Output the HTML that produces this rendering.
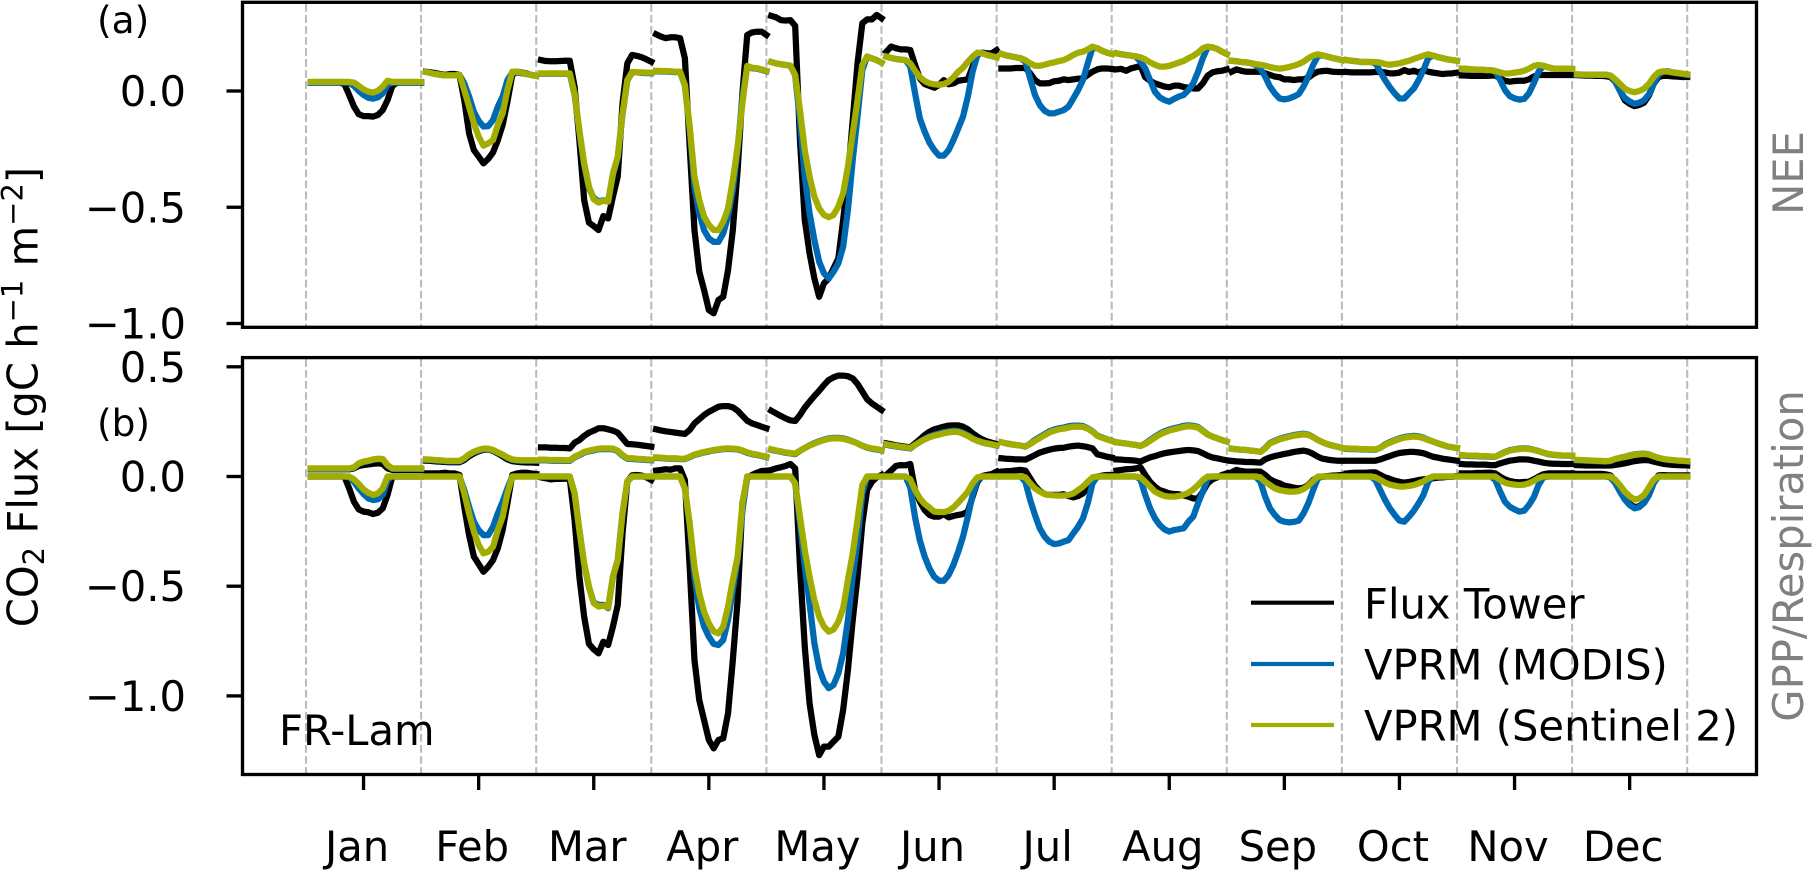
<!DOCTYPE html>
<html lang="en">
<head>
<meta charset="utf-8">
<title>FR-Lam CO2 flux</title>
<style>
html,body{margin:0;padding:0;background:#fff;}
svg{display:block;}
text{font-family:"DejaVu Sans","Liberation Sans",sans-serif;font-size:41.67px;fill:#000;}
</style>
</head>
<body>
<svg id="chart" width="1813" height="870" viewBox="0 0 1813 870" xmlns="http://www.w3.org/2000/svg">
  <rect x="0" y="0" width="1813" height="870" fill="#fff"/>
  <g id="grid"></g>
  <g id="marks"></g>
  <rect x="242.5" y="2.3" width="1514" height="325" fill="none" stroke="#000" stroke-width="3.33"/>
  <rect x="242.5" y="357.6" width="1514" height="416.9" fill="none" stroke="#000" stroke-width="3.33"/>
  <g id="axes"></g>
  <text x="97" y="33" style="font-size:37.5px">(a)</text>
  <text x="97" y="436" style="font-size:37.5px">(b)</text>
  <text transform="translate(37.5,397) rotate(-90)" text-anchor="middle">CO<tspan dy="6.5" style="font-size:29px">2</tspan><tspan dy="-6.5"> Flux [gC h</tspan><tspan dy="-15" style="font-size:29px">−1</tspan><tspan dy="15"> m</tspan><tspan dy="-15" style="font-size:29px">−2</tspan><tspan dy="15">]</tspan></text>
  <text transform="translate(1803,173) rotate(-90)" text-anchor="middle" style="fill:#808080">NEE</text>
  <text transform="translate(1803,556) rotate(-90)" text-anchor="middle" style="fill:#808080">GPP/Respiration</text>
  <text x="279" y="745">FR-Lam</text>
  <g>
    <line x1="1251" x2="1334" y1="602.7" y2="602.7" stroke="#000" stroke-width="4.17"/>
    <text x="1364" y="618.7">Flux Tower</text>
    <line x1="1251" x2="1334" y1="664" y2="664" stroke="#0069B4" stroke-width="4.17"/>
    <text x="1364" y="679.5">VPRM (MODIS)</text>
    <line x1="1251" x2="1334" y1="725" y2="725" stroke="#A3AD00" stroke-width="4.17"/>
    <text x="1364" y="740.5">VPRM (Sentinel 2)</text>
  </g>
</svg>
<script>
const months = ["Jan","Feb","Mar","Apr","May","Jun","Jul","Aug","Sep","Oct","Nov","Dec"];
const yTicksA = [0, -0.5, -1];
const yTickLabelsA = ["0.0","−0.5","−1.0"];
const yTicksB = [0.5, 0, -0.5, -1];
const yTickLabelsB = ["0.5","0.0","−0.5","−1.0"];

const neeTower = [
[.036,.036,.036,.036,.036,.036,.036,.03,-.017,-.067,-.1,-.108,-.108,-.11,-.103,-.082,-.039,.022,.036,.036,.036,.036,.036,.036],
[.083,.08,.077,.073,.069,.073,.073,.069,-.039,-.182,-.254,-.282,-.311,-.292,-.264,-.211,-.146,-.046,.069,.083,.08,.075,.069,.065],
[.133,.129,.128,.128,.129,.13,.13,.019,-.211,-.469,-.566,-.581,-.598,-.538,-.548,-.454,-.368,-.053,.119,.155,.151,.145,.136,.126],
[.244,.234,.227,.231,.231,.227,.141,-.239,-.598,-.777,-.856,-.942,-.956,-.899,-.885,-.77,-.598,-.34,-.01,.241,.252,.255,.255,.241],
[.323,.317,.305,.303,.305,.28,-.211,-.555,-.698,-.806,-.885,-.827,-.806,-.763,-.72,-.555,-.368,-.125,.119,.291,.308,.308,.327,.313],
[.169,.191,.184,.179,.179,.176,.112,.054,.03,.022,.014,.026,.047,.029,.033,.044,.047,.05,.105,.155,.165,.162,.162,.176],
[.097,.097,.097,.099,.099,.099,.076,.047,.033,.033,.034,.042,.044,.05,.047,.05,.053,.054,.069,.083,.093,.097,.097,.095],
[.093,.095,.087,.097,.102,.108,.059,.044,.033,.026,.019,.016,.023,.023,.017,.014,.011,.011,.033,.066,.08,.085,.087,.093],
[.083,.093,.087,.083,.083,.083,.083,.076,.069,.062,.059,.05,.05,.047,.05,.05,.057,.073,.083,.086,.087,.083,.082,.082],
[.082,.08,.08,.08,.08,.08,.082,.082,.08,.076,.076,.079,.09,.082,.087,.08,.09,.083,.079,.076,.073,.075,.076,.079],
[.067,.066,.065,.065,.065,.065,.066,.067,.054,.044,.04,.043,.044,.044,.05,.062,.069,.069,.069,.069,.069,.069,.069,.069],
[.068,.067,.066,.066,.065,.065,.064,.06,.04,0,-.04,-.055,-.065,-.06,-.05,-.02,.03,.06,.065,.065,.063,.062,.06,.06]
];
const neeModis = [
[.036,.036,.036,.036,.036,.036,.036,.036,.036,.022,0,-.017,-.029,-.033,-.027,-.01,.026,.036,.036,.036,.036,.036,.036,.036],
[.082,.078,.073,.07,.067,.067,.067,.069,.033,-.024,-.089,-.128,-.153,-.151,-.125,-.067,-.024,.047,.079,.079,.076,.073,.069,.065],
[.074,.074,.074,.074,.074,.074,.074,-.015,-.175,-.318,-.418,-.46,-.475,-.47,-.475,-.36,-.288,-.1,.045,.08,.08,.078,.077,.077],
[.085,.084,.084,.083,.081,.081,.024,-.16,-.411,-.526,-.598,-.634,-.649,-.649,-.612,-.54,-.426,-.254,-.024,.105,.098,.096,.091,.085],
[.125,.119,.115,.112,.109,.067,-.125,-.368,-.526,-.641,-.734,-.784,-.806,-.777,-.741,-.67,-.512,-.297,-.11,.09,.148,.14,.133,.122],
[.148,.142,.138,.135,.133,.105,-.01,-.118,-.175,-.222,-.254,-.278,-.278,-.254,-.211,-.161,-.11,-.024,.083,.155,.165,.155,.15,.145],
[.159,.153,.149,.145,.141,.126,.054,-.017,-.06,-.085,-.096,-.096,-.089,-.082,-.067,-.032,.004,.047,.119,.186,.184,.173,.165,.159],
[.162,.158,.155,.152,.149,.126,.097,.047,-.003,-.027,-.039,-.046,-.034,-.024,-.017,.004,.033,.083,.141,.188,.188,.181,.169,.159],
[.13,.128,.125,.123,.12,.112,.097,.062,.019,-.01,-.032,-.036,-.032,-.024,-.013,.019,.062,.112,.151,.153,.148,.142,.138,.133],
[.133,.13,.128,.125,.125,.125,.119,.083,.047,.016,-.01,-.032,-.032,-.01,.011,.047,.09,.141,.152,.146,.141,.136,.133,.13],
[.096,.095,.093,.092,.092,.09,.09,.083,.047,.004,-.022,-.032,-.037,-.034,-.01,.033,.083,.108,.102,.097,.096,.096,.096,.095],
[.07,.07,.07,.07,.07,.07,.07,.065,.04,0,-.03,-.045,-.055,-.05,-.04,-.015,.03,.07,.083,.085,.08,.075,.073,.07]
];
const neeS2 = [
[.039,.039,.039,.039,.039,.039,.039,.039,.039,.036,.022,.007,-.003,-.007,.001,.019,.044,.039,.039,.039,.039,.039,.039,.039],
[.082,.077,.073,.07,.067,.067,.067,.069,.004,-.067,-.139,-.196,-.235,-.225,-.211,-.146,-.096,.004,.083,.083,.079,.073,.069,.065],
[.076,.076,.076,.076,.076,.076,.076,-.01,-.168,-.311,-.411,-.466,-.48,-.472,-.476,-.354,-.282,-.096,.047,.082,.08,.08,.079,.079],
[.087,.086,.086,.085,.083,.083,.026,-.153,-.368,-.469,-.54,-.576,-.598,-.598,-.562,-.505,-.383,-.239,-.053,.108,.1,.098,.093,.087],
[.125,.119,.115,.112,.109,.069,-.082,-.254,-.368,-.454,-.505,-.533,-.543,-.533,-.497,-.44,-.325,-.182,-.039,.112,.148,.14,.133,.122],
[.148,.142,.138,.135,.133,.119,.087,.059,.043,.033,.029,.027,.03,.04,.059,.083,.1,.126,.148,.165,.162,.155,.15,.145],
[.159,.153,.149,.145,.141,.133,.119,.109,.108,.113,.119,.123,.129,.133,.143,.155,.165,.169,.179,.191,.184,.173,.165,.159],
[.162,.158,.155,.152,.149,.145,.136,.123,.113,.105,.105,.108,.115,.122,.129,.141,.151,.165,.184,.191,.188,.181,.169,.159],
[.13,.128,.125,.123,.12,.116,.113,.109,.103,.099,.096,.099,.103,.109,.116,.126,.141,.152,.158,.153,.148,.142,.138,.133],
[.133,.13,.128,.125,.125,.125,.125,.122,.116,.113,.116,.119,.125,.13,.138,.145,.152,.158,.152,.146,.141,.136,.133,.13],
[.096,.095,.093,.092,.092,.09,.09,.086,.08,.075,.076,.079,.082,.087,.096,.108,.112,.109,.102,.097,.096,.096,.096,.095],
[.072,.071,.07,.07,.07,.07,.07,.067,.05,.03,.01,0,-.005,0,.01,.03,.06,.08,.085,.083,.08,.078,.075,.072]
];
const respTower = [
[.033,.033,.033,.033,.033,.033,.033,.033,.033,.037,.048,.052,.055,.058,.06,.057,.037,.03,.03,.03,.03,.03,.03,.03],
[.072,.071,.069,.068,.066,.065,.065,.065,.075,.092,.105,.115,.122,.123,.117,.105,.092,.078,.07,.067,.065,.064,.064,.063],
[.133,.133,.131,.131,.13,.13,.128,.154,.166,.185,.2,.209,.22,.22,.215,.209,.2,.174,.148,.147,.145,.142,.139,.136],
[.215,.21,.206,.203,.2,.197,.194,.212,.242,.261,.28,.295,.306,.318,.321,.321,.315,.3,.277,.254,.242,.235,.227,.22],
[.3,.288,.276,.265,.256,.253,.28,.314,.341,.367,.391,.417,.44,.452,.46,.46,.457,.447,.422,.387,.352,.333,.318,.303],
[.151,.147,.142,.139,.136,.133,.151,.169,.189,.204,.215,.221,.227,.232,.233,.233,.227,.215,.197,.182,.169,.16,.154,.148],
[.083,.081,.08,.078,.078,.077,.087,.098,.109,.116,.122,.127,.13,.131,.136,.139,.141,.138,.134,.128,.101,.096,.09,.086],
[.078,.077,.075,.074,.072,.068,.078,.087,.093,.1,.106,.11,.113,.116,.119,.121,.119,.116,.106,.095,.087,.083,.078,.074],
[.071,.069,.068,.066,.066,.065,.063,.078,.087,.093,.098,.103,.107,.112,.115,.118,.113,.103,.09,.081,.077,.074,.072,.072],
[.072,.072,.072,.072,.072,.072,.072,.078,.086,.093,.101,.107,.11,.112,.112,.11,.106,.098,.09,.086,.081,.078,.075,.072],
[.057,.055,.055,.054,.054,.054,.052,.052,.06,.066,.072,.075,.078,.078,.077,.072,.068,.063,.06,.058,.058,.057,.057,.057],
[.052,.051,.05,.05,.05,.05,.05,.05,.053,.056,.06,.065,.07,.073,.075,.074,.068,.063,.058,.055,.053,.052,.051,.05]
];
const respModis = [
[.035,.035,.035,.035,.035,.035,.035,.035,.035,.04,.057,.065,.07,.076,.079,.078,.05,.035,.035,.035,.035,.035,.035,.035],
[.076,.075,.073,.072,.07,.069,.069,.069,.081,.099,.111,.119,.125,.125,.119,.108,.098,.085,.076,.073,.072,.072,.072,.072],
[.074,.074,.072,.072,.072,.071,.071,.087,.097,.109,.115,.119,.124,.125,.125,.124,.115,.095,.081,.08,.078,.077,.075,.074],
[.085,.084,.082,.081,.081,.079,.079,.088,.098,.104,.11,.114,.119,.122,.125,.126,.125,.123,.117,.108,.102,.098,.093,.088],
[.122,.117,.113,.108,.105,.102,.117,.13,.142,.152,.161,.168,.174,.176,.176,.174,.168,.16,.151,.14,.131,.126,.123,.119],
[.145,.14,.137,.134,.131,.128,.144,.158,.172,.183,.19,.196,.202,.206,.209,.207,.199,.188,.173,.163,.155,.15,.146,.141],
[.156,.151,.147,.144,.141,.136,.15,.167,.18,.193,.206,.214,.22,.223,.229,.232,.232,.23,.22,.206,.187,.178,.17,.163],
[.156,.153,.15,.147,.144,.139,.15,.167,.181,.195,.206,.214,.22,.225,.231,.233,.231,.226,.209,.192,.182,.174,.166,.159],
[.127,.124,.122,.121,.118,.116,.112,.13,.153,.163,.172,.178,.184,.189,.192,.195,.191,.18,.166,.156,.147,.141,.136,.131],
[.126,.125,.125,.123,.123,.122,.122,.131,.146,.157,.166,.174,.18,.183,.185,.183,.177,.167,.159,.151,.144,.137,.133,.13],
[.096,.094,.093,.093,.091,.091,.09,.09,.101,.112,.12,.124,.127,.129,.127,.122,.116,.109,.102,.099,.097,.095,.095,.094],
[.074,.073,.072,.071,.07,.069,.068,.07,.079,.085,.09,.096,.101,.103,.104,.101,.092,.085,.079,.076,.074,.072,.071,.069]
];
const respS2 = [
[.037,.037,.037,.037,.037,.037,.037,.037,.037,.042,.06,.068,.072,.078,.081,.08,.052,.037,.037,.037,.037,.037,.037,.037],
[.078,.077,.075,.074,.072,.071,.071,.071,.083,.101,.113,.121,.127,.127,.121,.11,.1,.087,.078,.075,.074,.074,.074,.074],
[.077,.077,.075,.075,.075,.074,.074,.09,.1,.112,.118,.122,.127,.128,.128,.127,.118,.098,.084,.083,.081,.08,.078,.077],
[.087,.086,.084,.083,.083,.081,.081,.09,.1,.106,.112,.116,.121,.124,.127,.128,.127,.125,.119,.11,.104,.1,.095,.09],
[.124,.119,.115,.11,.107,.104,.118,.13,.141,.15,.159,.166,.172,.174,.174,.172,.166,.159,.151,.141,.133,.128,.125,.121],
[.147,.142,.139,.136,.133,.13,.144,.157,.169,.179,.186,.191,.197,.201,.204,.203,.195,.185,.172,.163,.156,.151,.147,.142],
[.156,.151,.147,.144,.141,.136,.148,.163,.175,.188,.201,.209,.215,.218,.223,.227,.227,.226,.218,.204,.185,.177,.169,.162],
[.156,.153,.15,.147,.144,.139,.148,.163,.177,.191,.201,.209,.215,.22,.226,.229,.227,.223,.207,.191,.182,.174,.166,.159],
[.127,.124,.122,.121,.118,.116,.112,.128,.151,.16,.169,.175,.181,.186,.189,.192,.189,.179,.166,.156,.147,.141,.136,.131],
[.128,.127,.127,.125,.125,.124,.124,.131,.144,.154,.163,.171,.177,.18,.182,.18,.175,.166,.159,.151,.144,.137,.133,.13],
[.098,.096,.095,.095,.093,.093,.092,.09,.1,.11,.118,.122,.125,.127,.125,.121,.115,.109,.103,.1,.098,.096,.096,.095],
[.076,.075,.074,.073,.072,.071,.07,.072,.08,.085,.09,.095,.1,.102,.103,.1,.092,.085,.08,.077,.075,.073,.072,.07]
];
const gppTower = [
[0,0,0,0,0,0,0,0,-.054,-.115,-.15,-.16,-.163,-.171,-.165,-.145,-.084,0,0,0,0,0,0,0],
[.014,.014,.014,.015,.017,.014,.014,.007,-.138,-.267,-.365,-.399,-.434,-.411,-.381,-.327,-.244,-.122,.007,.014,.017,.017,.014,.011],
[-.004,-.008,-.013,-.011,-.011,-.01,-.01,-.198,-.457,-.639,-.763,-.788,-.806,-.753,-.768,-.684,-.586,-.259,-.024,.005,.007,.004,-.004,-.016],
[.027,.03,.033,.031,.037,.037,-.016,-.411,-.836,-1.019,-1.11,-1.201,-1.239,-1.201,-1.193,-1.079,-.836,-.563,-.122,-.008,.007,.017,.025,.027],
[.03,.037,.042,.048,.057,.037,-.411,-.776,-1.034,-1.178,-1.27,-1.231,-1.231,-1.208,-1.186,-1.064,-.882,-.654,-.457,-.213,-.062,-.024,-.004,.007],
[.007,.027,.048,.052,.051,.057,-.062,-.115,-.153,-.175,-.183,-.183,-.171,-.186,-.18,-.175,-.171,-.16,-.092,-.024,.002,.007,.011,.022],
[.022,.024,.025,.028,.03,.027,-.008,-.043,-.066,-.08,-.084,-.084,-.084,-.081,-.089,-.095,-.089,-.077,-.054,-.016,-.001,.004,.007,.007],
[.027,.03,.033,.034,.037,.042,.007,-.024,-.046,-.062,-.069,-.077,-.08,-.081,-.086,-.092,-.1,-.1,-.069,-.031,-.013,-.004,.007,.014],
[.019,.03,.025,.022,.022,.022,.022,.007,-.013,-.024,-.031,-.042,-.046,-.051,-.054,-.051,-.039,-.016,-.004,-.001,.002,.004,.005,.007],
[.014,.016,.017,.017,.017,.019,.019,.007,-.004,-.011,-.019,-.024,-.028,-.025,-.021,-.016,-.013,-.011,-.008,-.005,-.004,-.002,-.001,.002],
[.014,.014,.014,.016,.016,.017,.017,.014,-.001,-.013,-.021,-.025,-.027,-.025,-.024,-.013,-.001,.01,.014,.014,.014,.014,.014,.014],
[.012,.012,.012,.012,.012,.012,.01,.005,-.02,-.06,-.1,-.125,-.14,-.135,-.12,-.085,-.03,.005,.006,.005,.005,.005,.005,.005]
];
const gppModis = [
[0,0,0,0,0,0,0,0,-.003,-.024,-.054,-.08,-.1,-.107,-.104,-.084,-.016,0,0,0,0,0,0,0],
[0,0,0,0,0,0,0,0,-.062,-.138,-.206,-.244,-.267,-.267,-.229,-.168,-.115,-.054,0,0,0,0,0,0],
[0,0,0,0,0,0,0,-.077,-.244,-.4,-.505,-.575,-.585,-.585,-.6,-.457,-.381,-.168,-.024,0,0,0,0,0],
[0,0,0,0,0,0,-.054,-.22,-.457,-.6,-.684,-.73,-.763,-.768,-.745,-.654,-.517,-.381,-.156,0,0,0,0,0],
[0,0,0,0,0,-.03,-.213,-.411,-.578,-.76,-.874,-.935,-.965,-.95,-.897,-.806,-.654,-.457,-.29,-.077,0,0,0,0],
[0,0,0,0,0,-.05,-.186,-.292,-.365,-.419,-.457,-.475,-.475,-.449,-.403,-.343,-.274,-.183,-.084,-.016,0,0,0,0],
[0,0,0,0,0,-.024,-.107,-.175,-.236,-.274,-.297,-.308,-.305,-.297,-.29,-.259,-.229,-.191,-.122,-.031,0,0,0,0],
[0,0,0,0,0,-.013,-.084,-.145,-.19,-.221,-.241,-.251,-.244,-.24,-.236,-.206,-.183,-.122,-.069,-.008,0,0,0,0],
[0,0,0,0,0,0,-.024,-.092,-.145,-.175,-.198,-.206,-.209,-.207,-.201,-.168,-.122,-.062,-.008,0,0,0,0,0],
[0,0,0,0,0,0,-.016,-.062,-.107,-.145,-.175,-.201,-.206,-.183,-.156,-.122,-.084,-.024,0,0,0,0,0,0],
[0,0,0,0,0,0,0,-.016,-.069,-.115,-.138,-.15,-.16,-.156,-.13,-.095,-.039,-.004,0,0,0,0,0,0],
[0,0,0,0,0,0,0,-.005,-.03,-.07,-.105,-.13,-.145,-.14,-.12,-.085,-.03,0,0,0,0,0,0,0]
];
const gppS2 = [
[0,0,0,0,0,0,0,0,0,-.013,-.034,-.059,-.074,-.084,-.077,-.054,0,0,0,0,0,0,0,0],
[0,0,0,0,0,0,0,0,-.077,-.168,-.251,-.312,-.35,-.343,-.32,-.244,-.183,-.077,0,0,0,0,0,0],
[0,0,0,0,0,0,0,-.077,-.244,-.396,-.502,-.578,-.593,-.589,-.596,-.457,-.381,-.168,-.024,0,0,0,0,0],
[0,0,0,0,0,0,-.054,-.213,-.411,-.532,-.616,-.669,-.706,-.715,-.684,-.593,-.472,-.365,-.122,0,0,0,0,0],
[0,0,0,0,0,-.031,-.183,-.335,-.457,-.563,-.639,-.684,-.707,-.697,-.662,-.601,-.472,-.35,-.198,-.039,0,0,0,0],
[0,0,0,0,0,-.013,-.062,-.1,-.125,-.142,-.16,-.162,-.162,-.156,-.141,-.119,-.095,-.069,-.031,-.004,0,0,0,0],
[0,0,0,0,0,-.004,-.031,-.054,-.069,-.08,-.084,-.086,-.087,-.087,-.084,-.077,-.062,-.046,-.024,-.004,0,0,0,0],
[0,0,0,0,0,-.004,-.024,-.046,-.069,-.08,-.089,-.092,-.092,-.089,-.083,-.074,-.059,-.039,-.016,0,0,0,0,0],
[0,0,0,0,0,0,-.004,-.024,-.039,-.054,-.062,-.066,-.069,-.069,-.066,-.057,-.042,-.02,0,0,0,0,0,0],
[0,0,0,0,0,0,-.004,-.016,-.028,-.037,-.042,-.046,-.046,-.043,-.039,-.031,-.022,-.008,0,0,0,0,0,0],
[0,0,0,0,0,0,0,0,-.016,-.028,-.034,-.037,-.039,-.037,-.031,-.02,-.007,0,0,0,0,0,0,0],
[0,0,0,0,0,0,0,0,-.015,-.04,-.07,-.09,-.105,-.1,-.085,-.05,-.015,0,0,0,0,0,0,0]
];

const NS = "http://www.w3.org/2000/svg";
const grid = document.getElementById("grid");
const marks = document.getElementById("marks");
const axes = document.getElementById("axes");

function xMonth(m) { return 306 + 115.1 * m; }
function xHour(m, h) { return xMonth(m) + 4.796 * (h + 1); }
function yA(v) { return 91 - 232.5 * v; }
function yB(v) { return 476.5 - 219.4 * v; }

function line(parent, x1, y1, x2, y2, color, width) {
  const el = document.createElementNS(NS, "line");
  el.setAttribute("x1", x1);
  el.setAttribute("y1", y1);
  el.setAttribute("x2", x2);
  el.setAttribute("y2", y2);
  el.setAttribute("stroke", color);
  el.setAttribute("stroke-width", width);
  parent.appendChild(el);
  return el;
}

function label(parent, x, y, anchor, content) {
  const el = document.createElementNS(NS, "text");
  el.setAttribute("x", x);
  el.setAttribute("y", y);
  el.setAttribute("text-anchor", anchor);
  el.textContent = content;
  parent.appendChild(el);
  return el;
}

function drawSeries(values, yFn, color, name) {
  values.forEach(function (monthVals, m) {
    const pts = monthVals.map(function (v, h) {
      return xHour(m, h).toFixed(2) + "," + yFn(v).toFixed(2);
    }).join(" ");
    const el = document.createElementNS(NS, "polyline");
    el.setAttribute("points", pts);
    el.setAttribute("fill", "none");
    el.setAttribute("stroke", color);
    el.setAttribute("stroke-width", "6.25");
    el.setAttribute("stroke-linecap", "square");
    el.setAttribute("stroke-linejoin", "round");
    
    
    marks.appendChild(el);
  });
}

for (let i = 0; i <= months.length; i++) {
  const gridA = line(grid, xMonth(i), 4, xMonth(i), 326, "#bbbbbb", 2.08);
  gridA.setAttribute("stroke-dasharray", "7.7 3.33");
  
  
  const gridB = line(grid, xMonth(i), 359, xMonth(i), 773, "#bbbbbb", 2.08);
  gridB.setAttribute("stroke-dasharray", "7.7 3.33");
  
  
}

drawSeries(neeTower, yA, "#000000", "nee-flux-tower");
drawSeries(respTower, yB, "#000000", "respiration-flux-tower");
drawSeries(gppTower, yB, "#000000", "gpp-flux-tower");
drawSeries(neeModis, yA, "#0069B4", "nee-vprm-modis");
drawSeries(respModis, yB, "#0069B4", "respiration-vprm-modis");
drawSeries(gppModis, yB, "#0069B4", "gpp-vprm-modis");
drawSeries(neeS2, yA, "#A3AD00", "nee-vprm-sentinel");
drawSeries(respS2, yB, "#A3AD00", "respiration-vprm-sentinel");
drawSeries(gppS2, yB, "#A3AD00", "gpp-vprm-sentinel");

yTicksA.forEach(function (v, i) {
  const t = line(axes, 226.5, yA(v), 242, yA(v), "#000", 3.33);
  
  
  const l = label(axes, 186, yA(v) + 15, "end", yTickLabelsA[i]);
  
  
});
yTicksB.forEach(function (v, i) {
  const t = line(axes, 226.5, yB(v), 242, yB(v), "#000", 3.33);
  
  
  const l = label(axes, 186, yB(v) + 15, "end", yTickLabelsB[i]);
  
  
});
months.forEach(function (name, m) {
  const x = xMonth(m + 0.5);
  const t = line(axes, x, 775, x, 790, "#000", 3.33);
  
  
  const l = label(axes, x - 6.5, 861, "middle", name);
  
  
});
</script>
</body>
</html>
